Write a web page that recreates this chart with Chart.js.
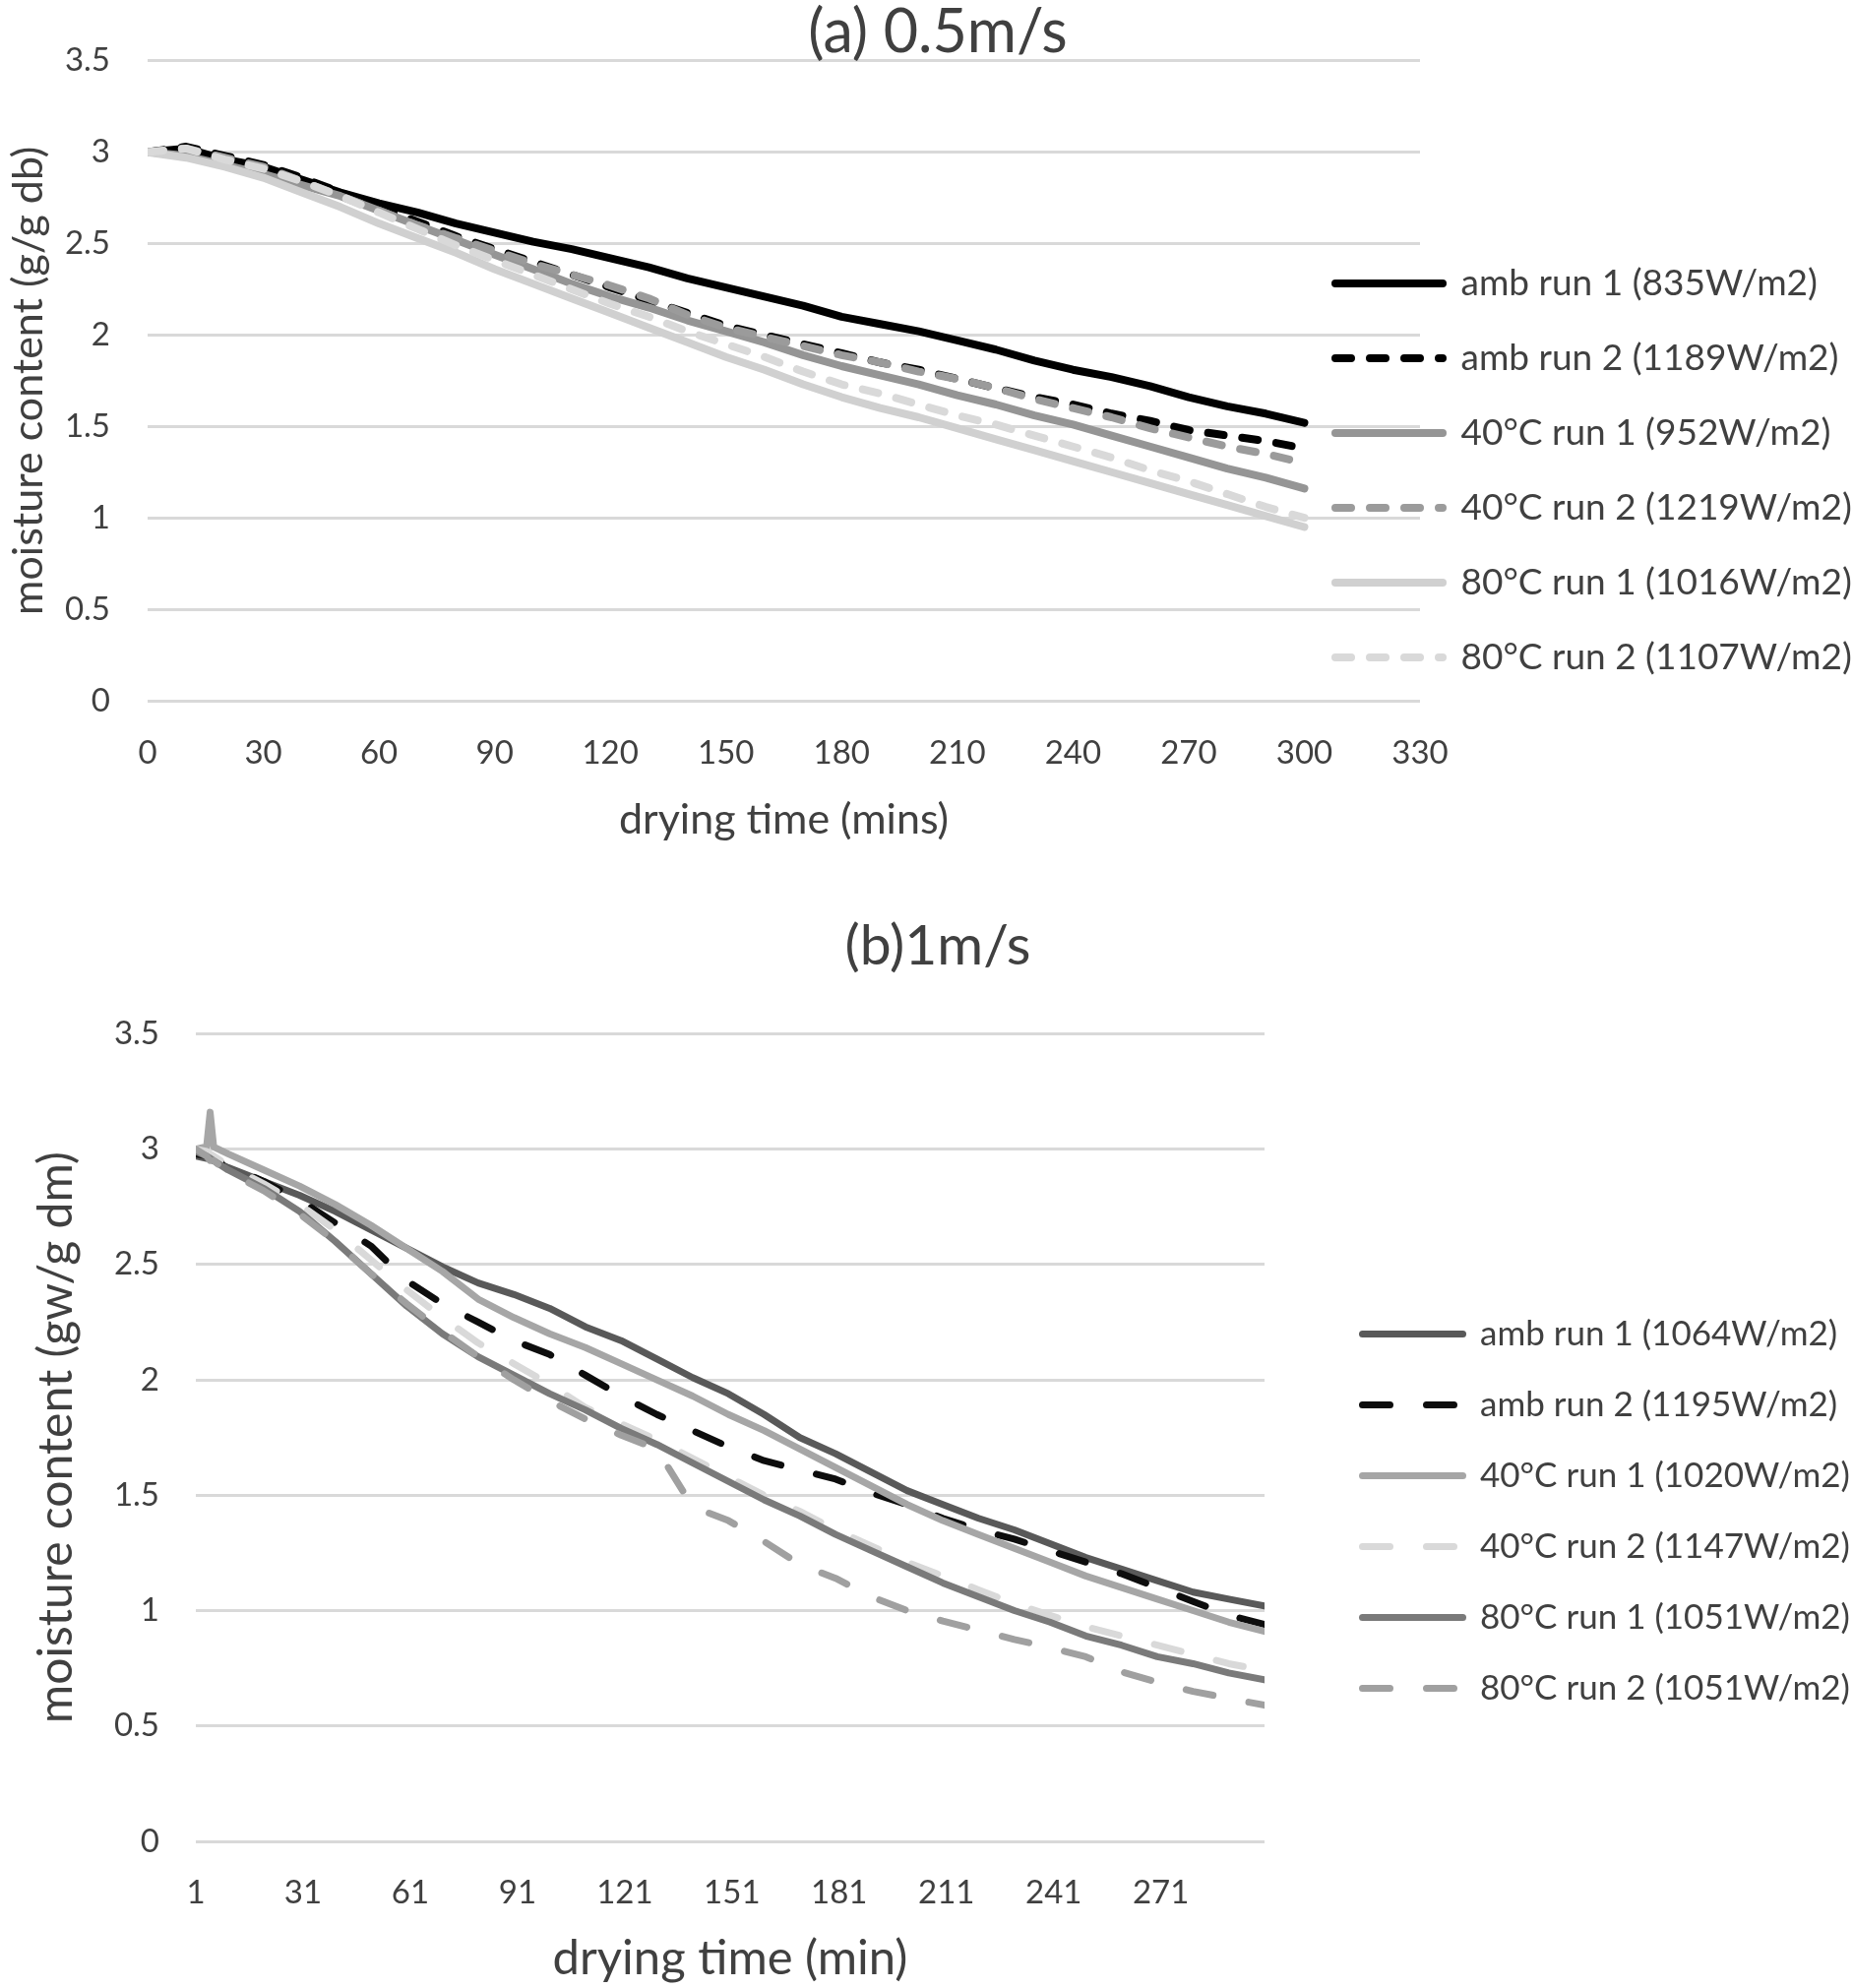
<!DOCTYPE html>
<html>
<head>
<meta charset="UTF-8">
<title>Moisture content vs drying time</title>
<style>
  html, body { margin: 0; background: #fff; overflow: hidden; }
  canvas { position: absolute; left: 0; }
  #chartA { top: 0; }
  #chartB { top: 900px; }
</style>
</head>
<body>
<canvas id="chartA" width="1906" height="900"></canvas>
<canvas id="chartB" width="1906" height="1120"></canvas>

<script src="https://cdn.jsdelivr.net/npm/chart.js"></script>
<script>
// ---- (a) 0.5 m/s : readings every 10 min ----
const timeA = [0,10,20,30,40,50,60,70,80,90,100,110,120,130,140,150,160,170,180,190,200,210,220,230,240,250,260,270,280,290,300];
const a_amb1 = [3.00,3.02,2.96,2.92,2.85,2.78,2.72,2.67,2.61,2.56,2.51,2.47,2.42,2.37,2.31,2.26,2.21,2.16,2.10,2.06,2.02,1.97,1.92,1.86,1.81,1.77,1.72,1.66,1.61,1.57,1.52];
const a_amb2 = [3.00,3.03,2.98,2.93,2.86,2.78,2.70,2.62,2.54,2.47,2.40,2.33,2.26,2.19,2.12,2.05,2.00,1.95,1.90,1.85,1.81,1.76,1.71,1.66,1.62,1.57,1.53,1.48,1.45,1.42,1.38];
const a_40r1 = [3.00,2.98,2.93,2.88,2.82,2.76,2.68,2.60,2.52,2.44,2.36,2.28,2.21,2.15,2.08,2.02,1.96,1.89,1.83,1.78,1.73,1.67,1.62,1.56,1.51,1.45,1.39,1.33,1.27,1.22,1.16];
const a_40r2 = [3.00,3.02,2.97,2.92,2.84,2.76,2.68,2.60,2.53,2.46,2.39,2.33,2.27,2.20,2.11,2.04,1.99,1.94,1.89,1.85,1.80,1.76,1.71,1.65,1.60,1.55,1.49,1.44,1.39,1.35,1.30];
const a_80r1 = [3.00,2.97,2.92,2.86,2.78,2.70,2.61,2.53,2.45,2.36,2.28,2.20,2.12,2.04,1.96,1.88,1.81,1.73,1.66,1.60,1.55,1.49,1.43,1.37,1.31,1.25,1.19,1.13,1.07,1.01,0.95];
const a_80r2 = [3.00,3.02,2.96,2.91,2.84,2.76,2.67,2.58,2.49,2.41,2.33,2.25,2.17,2.10,2.02,1.95,1.88,1.80,1.73,1.68,1.62,1.56,1.51,1.45,1.39,1.33,1.26,1.20,1.13,1.06,1.00];
const namesA = ['amb run 1 (835W/m2)','amb run 2 (1189W/m2)','40°C run 1 (952W/m2)','40°C run 2 (1219W/m2)','80°C run 1 (1016W/m2)','80°C run 2 (1107W/m2)'];

// ---- (b) 1 m/s ----
const timeB = [1,4,5,6,10,20,30,40,50,60,70,80,90,100,110,120,130,140,150,160,170,180,190,200,210,220,230,240,250,260,270,280,290,300];
const b_amb1 = [2.97,2.96,2.96,2.95,2.92,2.86,2.80,2.73,2.65,2.57,2.49,2.42,2.37,2.31,2.23,2.17,2.09,2.01,1.94,1.85,1.75,1.68,1.60,1.52,1.46,1.40,1.35,1.29,1.23,1.18,1.13,1.08,1.05,1.02];
const b_amb2 = [2.98,2.97,2.96,2.95,2.93,2.86,2.78,2.68,2.58,2.43,2.33,2.25,2.17,2.11,2.02,1.93,1.85,1.78,1.71,1.65,1.61,1.57,1.51,1.46,1.40,1.35,1.31,1.26,1.21,1.16,1.10,1.04,0.98,0.94];
const b_40r1 = [3.00,3.01,3.16,3.01,2.98,2.91,2.84,2.76,2.67,2.57,2.47,2.35,2.27,2.20,2.14,2.07,2.00,1.93,1.85,1.78,1.70,1.62,1.54,1.46,1.39,1.33,1.27,1.21,1.15,1.10,1.05,1.00,0.95,0.91];
const b_40r2 = [3.00,2.99,2.98,2.97,2.93,2.85,2.76,2.65,2.52,2.39,2.27,2.16,2.07,1.98,1.88,1.81,1.74,1.66,1.58,1.50,1.43,1.35,1.28,1.21,1.15,1.09,1.03,0.98,0.93,0.89,0.85,0.81,0.77,0.74];
const b_80r1 = [2.99,2.97,2.96,2.95,2.91,2.83,2.73,2.60,2.46,2.32,2.20,2.10,2.02,1.94,1.87,1.79,1.72,1.64,1.56,1.48,1.41,1.33,1.26,1.19,1.12,1.06,1.00,0.95,0.89,0.85,0.80,0.77,0.73,0.70];
const b_80r2 = [3.00,2.97,2.95,2.95,2.90,2.82,2.72,2.60,2.46,2.33,2.21,2.10,2.00,1.91,1.83,1.76,1.70,1.45,1.39,1.30,1.20,1.14,1.06,1.00,0.955,0.915,0.875,0.84,0.80,0.735,0.69,0.65,0.62,0.59];
const namesB = ['amb run 1 (1064W/m2)','amb run 2 (1195W/m2)','40°C run 1 (1020W/m2)','40°C run 2 (1147W/m2)','80°C run 1 (1051W/m2)','80°C run 2 (1051W/m2)'];
const xTicksB = [1,31,61,91,121,151,181,211,241,271];

Chart.defaults.font.family = "Lato, 'Noto Sans', sans-serif";
Chart.defaults.color = '#404040';

// legend keeps a fixed slot on the right and is drawn at a fixed spot (overlapping the plot like Excel)
const legendSpot = {
  id: 'legendSpot',
  beforeInit(chart) {
    const lg = chart.legend;
    const fit = lg.fit;
    lg.fit = function () {
      fit.call(this);
      this.width = chart.options.plugins.legendSpot.reserve;
    };
  },
  afterLayout(chart, args, o) {
    const lg = chart.legend;
    lg.left = o.x; lg.right = chart.width;
    lg.top = o.y; lg.bottom = chart.height;
    lg.width = lg.right - lg.left; lg.height = lg.bottom - lg.top;
  }
};

function makeChart(id, c) {
  const datasets = c.names.map((name, i) => ({
    label: name,
    data: c.x.map((t, j) => ({ x: t, y: c.values[i][j] })),
    borderColor: c.colors[i],
    backgroundColor: c.colors[i],
    borderWidth: c.lineWidth,
    borderDash: c.dashed[i] ? c.dash : [],
    borderCapStyle: 'round',
    borderJoinStyle: 'round',
    pointRadius: 0,
    tension: 0,
    order: -i
  }));

  return new Chart(document.getElementById(id), {
    type: 'line',
    data: { datasets },
    options: {
      responsive: false,
      animation: false,
      devicePixelRatio: 1,
      layout: { padding: 0 },
      plugins: {
        tooltip: { enabled: false },
        title: {
          display: true, text: c.title, color: '#404040',
          font: { size: c.titleSize, weight: 'normal' },
          padding: c.titlePad
        },
        legend: {
          position: 'right', align: 'start',
          labels: {
            usePointStyle: true, pointStyleWidth: c.legendLine, boxHeight: 10,
            padding: c.legendPad, font: { size: c.legendSize },
            generateLabels: ch => ch.data.datasets.map((ds, i) => ({
              text: ds.label, datasetIndex: i, fontColor: '#404040',
              strokeStyle: ds.borderColor, fillStyle: ds.borderColor,
              lineWidth: ds.borderWidth, lineDash: ds.borderDash, lineCap: 'round',
              pointStyle: 'line', hidden: false
            }))
          }
        },
        legendSpot: c.legendSpot
      },
      scales: {
        x: {
          type: 'linear', min: c.xMin, max: c.xMax,
          ticks: { stepSize: 30, padding: c.xTickPad, font: { size: 33 }, color: '#404040', maxRotation: 0 },
          afterBuildTicks: c.xTicks ? (s => { s.ticks = c.xTicks.map(v => ({ value: v })); }) : undefined,
          afterFit: s => { s.height = c.xHeight; },
          grid: { display: false },
          border: { display: false },
          title: { display: true, text: c.xTitle, color: '#404040', font: { size: c.xTitleSize }, padding: { top: 0, bottom: c.xTitlePad } }
        },
        y: {
          min: 0, max: 3.5,
          ticks: { stepSize: 0.5, padding: c.yTickPad, font: { size: 33 }, color: '#404040',
                   callback: v => String(+v.toFixed(1)) },
          afterFit: s => { s.width = c.yWidth; },
          grid: { color: '#d9d9d9', lineWidth: 3, drawTicks: false },
          border: { display: false },
          title: { display: true, text: c.yTitle, color: '#404040', font: { size: c.yTitleSize }, padding: { top: c.yTitlePad, bottom: 0 } }
        }
      }
    },
    plugins: [legendSpot]
  });
}

makeChart('chartA', {
  title: '(a) 0.5m/s', titleSize: 61, titlePad: { top: -3, bottom: -8.5 },
  names: namesA, x: timeA,
  values: [a_amb1, a_amb2, a_40r1, a_40r2, a_80r1, a_80r2],
  colors: ['#000000', '#000000', '#959595', '#9b9b9b', '#d0d0d0', '#d9d9d9'],
  dashed: [false, true, false, true, false, true],
  dash: [16, 19], lineWidth: 8,
  legendLine: 109, legendPad: 39, legendSize: 37,
  legendSpot: { reserve: 463, x: 1318, y: 230.5 },
  xMin: 0, xMax: 330, xTicks: null, xHeight: 188, xTickPad: 25.5,
  xTitle: 'drying time (mins)', xTitleSize: 43, xTitlePad: 41,
  yWidth: 150, yTickPad: 38,
  yTitle: 'moisture content (g/g db)', yTitleSize: 43, yTitlePad: 3
});

makeChart('chartB', {
  title: '(b)1m/s', titleSize: 57, titlePad: { top: 27, bottom: 55 },
  names: namesB, x: timeB,
  values: [b_amb1, b_amb2, b_40r1, b_40r2, b_80r1, b_80r2],
  colors: ['#595959', '#0d0d0d', '#a6a6a6', '#d9d9d9', '#7a7a7a', '#a0a0a0'],
  dashed: [false, true, false, true, false, true],
  dash: [28, 37], lineWidth: 7,
  legendLine: 102, legendPad: 37, legendSize: 35,
  legendSpot: { reserve: 621, x: 1347.5, y: 401 },
  xMin: 1, xMax: 300, xTicks: xTicksB, xHeight: 149, xTickPad: 24.5,
  xTitle: 'drying time (min)', xTitleSize: 49, xTitlePad: 0,
  yWidth: 199, yTickPad: 37,
  yTitle: 'moisture content (gw/g dm)', yTitleSize: 48, yTitlePad: 29
});
</script>
</body>
</html>
